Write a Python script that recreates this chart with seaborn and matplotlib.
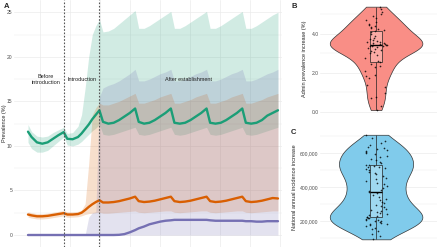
import numpy as np
import pandas as pd
import matplotlib.pyplot as plt
import matplotlib.ticker as mticker
import seaborn as sns

sns.set_theme(style="white")
plt.rcParams['font.family'] = ['Liberation Sans', 'DejaVu Sans']

# ---- panel A: prevalence over time (years) ----
t = [0, 0.1, 0.25, 0.4, 0.55, 0.7, 0.85,
     1.0, 1.1, 1.25, 1.4, 1.5, 1.6, 1.7, 1.8, 1.9,
     2.0, 2.1, 2.25, 2.4, 2.55, 2.7, 2.85,
     3.0, 3.1, 3.25, 3.4, 3.55, 3.7, 3.85,
     4.0, 4.1, 4.25, 4.4, 4.55, 4.7, 4.85,
     5.0, 5.1, 5.25, 5.4, 5.55, 5.7, 5.85,
     6.0, 6.1, 6.25, 6.4, 6.55, 6.7, 6.85,
     7.0]

green_mid = [11.6, 11.0, 10.4, 10.25, 10.4, 10.8, 11.2,
             11.55, 10.8, 10.75, 11.0, 11.4, 11.9, 12.4, 13.0, 13.5,
             14.0, 12.7, 12.5, 12.6, 12.9, 13.3, 13.7,
             14.2, 12.7, 12.5, 12.6, 12.9, 13.3, 13.7,
             14.2, 12.6, 12.5, 12.6, 12.9, 13.3, 13.7,
             14.2, 12.6, 12.5, 12.6, 12.9, 13.3, 13.7,
             14.2, 12.6, 12.5, 12.6, 12.9, 13.4, 13.7,
             14.0]
green_hi = [12.4, 11.6, 11.1, 11.0, 11.1, 11.5, 11.8,
            12.1, 11.4, 11.5, 12.2, 13.5, 16.5, 20.0, 22.5, 23.5,
            24.2, 22.8, 22.9, 23.2, 23.7, 24.2, 24.7,
            25.2, 23.2, 23.2, 23.5, 23.9, 24.3, 24.7,
            25.1, 23.2, 23.2, 23.5, 23.9, 24.3, 24.7,
            25.1, 23.2, 23.2, 23.5, 23.9, 24.3, 24.7,
            25.1, 23.2, 23.2, 23.5, 23.9, 24.3, 24.7,
            25.0]
green_lo = [10.4, 9.7, 9.3, 9.3, 9.5, 10.0, 10.5,
            11.0, 10.1, 10.0, 10.2, 10.5, 10.9, 11.3, 11.7, 12.0,
            12.4, 11.3, 11.2, 11.3, 11.5, 11.7, 11.9,
            12.1, 11.3, 11.2, 11.3, 11.5, 11.7, 11.9,
            12.1, 11.3, 11.2, 11.3, 11.5, 11.7, 11.9,
            12.1, 11.3, 11.2, 11.3, 11.5, 11.7, 11.9,
            12.1, 11.3, 11.2, 11.3, 11.5, 11.7, 11.9,
            12.1]

orange_mid = [2.3, 2.2, 2.1, 2.1, 2.15, 2.25, 2.35,
              2.45, 2.3, 2.3, 2.35, 2.5, 2.8, 3.15, 3.45, 3.7,
              3.9, 3.65, 3.65, 3.7, 3.8, 3.95, 4.1,
              4.3, 3.8, 3.7, 3.75, 3.85, 4.0, 4.15,
              4.3, 3.8, 3.7, 3.75, 3.85, 4.0, 4.15,
              4.3, 3.8, 3.7, 3.75, 3.85, 4.0, 4.15,
              4.3, 3.8, 3.7, 3.75, 3.85, 4.0, 4.15,
              4.1]
orange_hi = [2.6, 2.5, 2.4, 2.4, 2.45, 2.55, 2.65,
             2.75, 2.6, 2.6, 2.65, 2.8, 3.5, 8.0, 13.5, 14.3,
             14.8, 14.6, 14.6, 14.8, 15.0, 15.3, 15.6,
             15.9, 14.8, 14.8, 15.0, 15.2, 15.5, 15.7,
             15.9, 14.8, 14.8, 15.0, 15.2, 15.5, 15.7,
             15.9, 14.8, 14.8, 15.0, 15.2, 15.5, 15.7,
             15.9, 14.8, 14.8, 15.0, 15.2, 15.5, 15.7,
             15.9]
orange_lo = [2.0, 1.9, 1.8, 1.8, 1.85, 1.95, 2.05,
             2.15, 2.0, 2.0, 2.05, 2.15, 2.3, 2.4, 2.45, 2.5,
             2.55, 2.45, 2.45, 2.5, 2.55, 2.6, 2.65,
             2.7, 2.55, 2.5, 2.55, 2.6, 2.65, 2.7,
             2.7, 2.55, 2.5, 2.55, 2.6, 2.65, 2.7,
             2.7, 2.55, 2.5, 2.55, 2.6, 2.65, 2.7,
             2.7, 2.55, 2.5, 2.55, 2.6, 2.65, 2.7,
             2.7]

purple_mid = [0, 0, 0, 0, 0, 0, 0,
              0, 0, 0, 0, 0, 0, 0, 0, 0,
              0, 0, 0, 0, 0.02, 0.1, 0.3,
              0.55, 0.75, 0.95, 1.2, 1.35, 1.5, 1.6,
              1.65, 1.7, 1.7, 1.7, 1.7, 1.7, 1.7,
              1.7, 1.65, 1.6, 1.6, 1.6, 1.6, 1.6,
              1.6, 1.55, 1.55, 1.5, 1.5, 1.55, 1.55,
              1.55]
purple_hi = [0, 0, 0, 0, 0, 0, 0,
             0, 0, 0, 0, 0, 0, 2.0, 2.5, 2.6,
             15.5, 16.5, 16.8, 17.0, 17.3, 17.7, 18.1,
             18.6, 17.3, 17.3, 17.5, 17.8, 18.1, 18.3,
             18.6, 17.3, 17.3, 17.5, 17.8, 18.1, 18.3,
             18.6, 17.3, 17.3, 17.5, 17.8, 18.1, 18.3,
             18.6, 17.3, 17.3, 17.5, 17.8, 18.1, 18.3,
             18.6]
purple_lo = [0] * len(t)

phase_x = [0.5, 1.5, 4.5]
phase_labels = ["Before\nintroduction", "Introduction", "After establishment"]
intro_lines = [1, 2]

# ---- panel B / C: distributions ----
admin_increase = [0.1, 0.3, 0.7, 0.75, 0.95, 1.3, 1.4, 1.75, 1.85, 1.9,
                  2.1, 2.3, 2.35, 2.45, 2.55,
                  2.6, 2.75, 2.9, 3.0, 3.1, 3.15, 3.2, 3.25, 3.3, 3.33, 3.36, 3.38, 3.4, 3.42, 3.43,
                  3.45, 3.47, 3.5, 3.52, 3.55, 3.58, 3.6, 3.65, 3.7, 3.75, 3.8, 3.9, 4.0, 4.08, 4.15,
                  4.2, 4.25, 4.3, 4.35, 4.4, 4.45, 4.5, 4.6, 4.7, 4.8, 4.9, 5.0, 5.15, 5.3, 5.4]

national_increase_k = [92, 110, 125, 140, 150, 160, 168, 175, 180, 185, 190, 195, 198, 202, 205, 208, 212, 216, 219, 222,
                       226, 230, 235, 240, 246, 252, 258, 265, 272, 280, 288, 296, 305, 314, 323, 332, 342, 352, 362, 370,
                       376, 385, 395, 405, 415, 425, 435, 445, 455, 465, 474, 482, 490, 498, 505, 511, 516, 520, 524, 527,
                       532, 540, 548, 556, 565, 575, 585, 592, 598, 604, 610, 616, 622, 628, 635, 645, 658, 672, 690, 707]
national_increase = [v * 1000 for v in national_increase_k]

df = pd.DataFrame({'t': t, 'green': green_mid, 'orange': orange_mid, 'purple': purple_mid})
long = df.melt(id_vars='t', var_name='group', value_name='prev')

pal = {'green': '#1B9E77', 'orange': '#D95F02', 'purple': '#7570B3'}
grid_col = '#EBEBEB'
tick_col = '#4D4D4D'

fig = plt.figure(figsize=(4.4, 2.47), dpi=100)

axA = fig.add_axes([14 / 440, 0, 268 / 440, 1])
axB = fig.add_axes([320 / 440, (247 - 115.3) / 247, 117 / 440, 113.9 / 247])
axC = fig.add_axes([320 / 440, (247 - 244.6) / 247, 117 / 440, 115.1 / 247])

# panel A
axA.fill_between(t, green_lo, green_hi, color=pal['green'], alpha=0.2, lw=0)
axA.fill_between(t, orange_lo, orange_hi, color=pal['orange'], alpha=0.2, lw=0)
axA.fill_between(t, purple_lo, purple_hi, color=pal['purple'], alpha=0.2, lw=0)
sns.lineplot(data=long, x='t', y='prev', hue='group', palette=pal, lw=1.7,
             legend=False, ax=axA)
for xv in intro_lines:
    axA.axvline(xv, color='#555555', lw=0.8, ls=(0, (1.5, 1.5)), zorder=5)
for xv, lab in zip(phase_x, phase_labels):
    axA.text(xv, 17.45, lab, ha='center', va='center', fontsize=4, color='#222222',
             linespacing=1.1)

axA.set_xlim((14 - 28) / 35.71, (282 - 28) / 35.71)
axA.set_ylim(-12 / 8.908, 235 / 8.908)
axA.set_yticks([0, 5, 10, 15, 20, 25])
axA.set_yticks([2.5, 7.5, 12.5, 17.5, 22.5], minor=True)
axA.set_xticks([(px - 28) / 35.71 for px in [40, 70, 100, 130, 160, 190, 220, 250, 280]])
axA.set_xticklabels([])
axA.grid(True, which='major', color=grid_col, lw=0.5)
axA.grid(True, which='minor', axis='y', color=grid_col, lw=0.3)
axA.set_axisbelow(True)
axA.set_xlabel('')
axA.set_ylabel('Prevalence (%)', fontsize=4)
axA.yaxis.set_label_coords(-0.026, 0.5)
axA.tick_params(axis='y', labelsize=3.6, colors=tick_col, length=0, pad=1)
axA.tick_params(axis='x', length=0)
for s in axA.spines.values():
    s.set_visible(False)


def violin_panel(ax, vals, color):
    sns.violinplot(y=vals, ax=ax, cut=0, inner=None, color=color, saturation=1,
                   linewidth=0.5, linecolor='#333333', width=0.95, bw_adjust=0.8)
    sns.boxplot(y=vals, ax=ax, width=0.12, whis=(0, 100), showfliers=False,
                boxprops=dict(facecolor=(1, 1, 1, 0.25), edgecolor='#222222', lw=0.5),
                whiskerprops=dict(color='#222222', lw=0.5),
                capprops=dict(lw=0),
                medianprops=dict(color='black', lw=1.0))
    sns.stripplot(y=vals, ax=ax, color='black', size=1.2, jitter=0.12, alpha=0.8)
    ax.set_xlim(-0.575, 0.625)
    ax.set_xticks([])
    ax.grid(True, which='major', axis='y', color=grid_col, lw=0.5)
    ax.grid(True, which='minor', axis='y', color=grid_col, lw=0.3)
    ax.set_axisbelow(True)
    ax.tick_params(axis='y', labelsize=3.6, colors=tick_col, length=0, pad=1)
    for s in ax.spines.values():
        s.set_visible(False)


np.random.seed(3)
violin_panel(axB, admin_increase, '#F98E86')
axB.set_ylim(-0.17, 5.67)
axB.set_yticks([0, 2, 4])
axB.set_yticks([1, 3, 5], minor=True)
axB.yaxis.set_major_formatter(mticker.FormatStrFormatter('%.1f'))
axB.set_ylabel('Admin prevalence increase (%)', fontsize=4, labelpad=2)

violin_panel(axC, national_increase, '#80CBEB')
axC.set_ylim(61000, 738000)
axC.set_yticks([200000, 400000, 600000])
axC.set_yticks([100000, 300000, 500000, 700000], minor=True)
axC.yaxis.set_major_formatter(mticker.StrMethodFormatter('{x:,.0f}'))
axC.set_ylabel('National annual incidence increase', fontsize=4, labelpad=2)

fig.text(4 / 440, 1 - 6 / 247, 'A', fontsize=5.5, fontweight='bold', va='center')
fig.text(291 / 440, 1 - 6 / 247, 'B', fontsize=5.5, fontweight='bold', va='center')
fig.text(291 / 440, 1 - 133 / 247, 'C', fontsize=5.5, fontweight='bold', va='center')

fig.savefig('out.png', dpi=100)
